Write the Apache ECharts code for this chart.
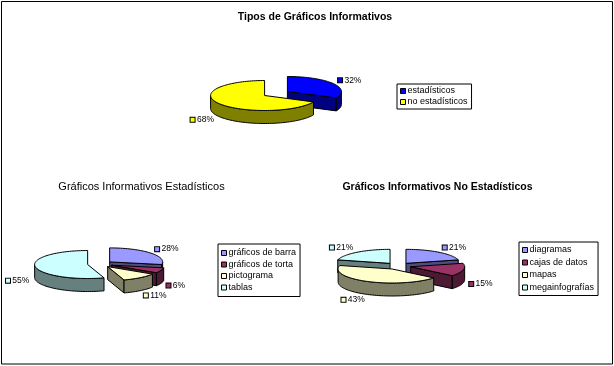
<!DOCTYPE html>
<html>
<head>
<meta charset="utf-8">
<script src="https://cdn.jsdelivr.net/npm/echarts@6/dist/echarts.min.js"></script>
<style>
html,body{margin:0;padding:0;background:#fff;}
#c{width:614px;height:366px;}
</style>
</head>
<body>
<div id="c"></div>
<script>
// ---- data ----
const title1 = 'Tipos de Gráficos Informativos';
const title2 = 'Gráficos Informativos Estadísticos';
const title3 = 'Gráficos Informativos No Estadísticos';

const pie1Names = ['estadísticos', 'no estadísticos'];
const pie1Values = [32, 68];

const pie2Names = ['gráficos de barra', 'gráficos de torta', 'pictograma', 'tablas'];
const pie2Values = [28, 6, 11, 55];

const pie3Names = ['diagramas', 'cajas de datos', 'mapas', 'megainfografías'];
const pie3Values = [21, 15, 43, 21];

// ---- styles ----
const pie1Top = ['#0000FF', '#FFFF00'];
const pie1Side = ['#000080', '#808000'];
const pieTop = ['#9999FF', '#993366', '#FFFFCC', '#CCFFFF'];
const pieSide = ['#4D4D80', '#4D1A33', '#808066', '#668080'];
const FONT = '"Liberation Sans", Arial, sans-serif';

const pies = [
  {names: pie1Names, values: pie1Values, tops: pie1Top, sides: pie1Side,
   cx: 276, cy: 93.5, rx: 54, ry: 15, depth: 13, explode: 0.25},
  {names: pie2Names, values: pie2Values, tops: pieTop, sides: pieSide,
   cx: 100, cy: 264, rx: 53, ry: 14, depth: 13, explode: 0.236},
  {names: pie3Names, values: pie3Values, tops: pieTop, sides: pieSide,
   cx: 398, cy: 266, rx: 54, ry: 14, depth: 13, explode: 0.24}
];

const rad = d => d * Math.PI / 180;

function sliceAngles(values, i) {
  const total = values.reduce((a, b) => a + b, 0);
  let before = 0;
  for (let k = 0; k < i; k++) before += values[k];
  return {a0: before / total * 360, a1: (before + values[i]) / total * 360, total};
}

// rank slices back-to-front for side drawing
pies.forEach(p => {
  const ys = p.values.map((v, i) => {
    const s = sliceAngles(p.values, i);
    const mid = (s.a0 + s.a1) / 2;
    return {i, y: p.cy - p.explode * p.ry * Math.cos(rad(mid))};
  });
  ys.sort((a, b) => a.y - b.y);
  p.rank = [];
  ys.forEach((o, r) => { p.rank[o.i] = r; });
});

function makeRender(p, i, pieIdx) {
  return function (params, api) {
    const v = api.value(0);
    const s = sliceAngles(p.values, i);
    const a0 = s.a0, a1 = s.a1, mid = (a0 + a1) / 2;
    const d = p.depth;
    const ax = p.cx + p.explode * p.rx * Math.sin(rad(mid));
    const ay = p.cy - p.explode * p.ry * Math.cos(rad(mid));
    const P = (t, dy) => [ax + p.rx * Math.sin(rad(t)), ay - p.ry * Math.cos(rad(t)) + (dy || 0)];
    const arc = (st, en, dy) => {
      const n = Math.max(2, Math.ceil((en - st) / 2));
      const pts = [];
      for (let j = 0; j <= n; j++) pts.push(P(st + (en - st) * j / n, dy));
      return pts;
    };
    const children = [];
    const sideZ = 10 + pieIdx * 10 + p.rank[i];
    const sideStyle = {fill: p.sides[i], stroke: '#000', lineWidth: 1, lineJoin: 'round'};
    if (Math.sin(rad(a0)) < -1e-6) {
      children.push({type: 'polygon', z2: sideZ,
        shape: {points: [[ax, ay], P(a0), P(a0, d), [ax, ay + d]]}, style: sideStyle});
    }
    if (Math.sin(rad(a1)) > 1e-6) {
      children.push({type: 'polygon', z2: sideZ,
        shape: {points: [[ax, ay], P(a1), P(a1, d), [ax, ay + d]]}, style: sideStyle});
    }
    const cs = Math.max(a0, 90), ce = Math.min(a1, 270);
    if (ce > cs) {
      const pts = arc(cs, ce, 0).concat(arc(cs, ce, d).reverse());
      children.push({type: 'polygon', z2: sideZ, shape: {points: pts}, style: sideStyle});
    }
    children.push({type: 'polygon', z2: 100,
      shape: {points: [[ax, ay]].concat(arc(a0, a1, 0))},
      style: {fill: p.tops[i], stroke: '#000', lineWidth: 1, lineJoin: 'round'}});
    // label
    const sn = Math.sin(rad(mid)), cn = Math.cos(rad(mid));
    const lx = ax + (p.rx + 6) * sn;
    const ly = ay - (p.ry + 6) * cn + (cn < 0 ? d : 0);
    const pct = Math.round(v / s.total * 100) + '%';
    children.push({type: 'text', z2: 200, x: lx, y: ly,
      style: {text: '{k| }' + ' ' + pct, fill: '#000', fontSize: 8.5, fontFamily: FONT,
        align: sn >= 0 ? 'left' : 'right', verticalAlign: 'middle',
        rich: {k: {width: 4, height: 4, backgroundColor: p.tops[i], borderColor: '#000', borderWidth: 1, verticalAlign: 'middle'}}}});
    return {type: 'group', children};
  };
}

const series = [];
pies.forEach((p, pi) => {
  p.names.forEach((name, i) => {
    series.push({
      type: 'custom', name, coordinateSystem: 'none',
      itemStyle: {color: p.tops[i]},
      data: [[p.values[i]]],
      renderItem: makeRender(p, i, pi),
      silent: true, animation: false
    });
  });
});

const legendBase = {
  orient: 'vertical', itemWidth: 5, itemHeight: 5, icon: 'rect',
  borderColor: '#000', borderWidth: 1, backgroundColor: '#fff',
  itemStyle: {borderColor: '#000', borderWidth: 1},
  textStyle: {fontSize: 9, fontFamily: FONT, color: '#000', lineHeight: 10, padding: [0, 0, 0, -3]},
  selectedMode: false
};

const option = {
  animation: false,
  backgroundColor: '#fff',
  legend: [
    Object.assign({}, legendBase, {data: pie1Names, left: 397, top: 84, itemGap: 1, padding: [2, 4, 2, 3]}),
    Object.assign({}, legendBase, {data: pie2Names, left: 218, top: 244, itemGap: 1.5, padding: [4, 4, 4, 3]}),
    Object.assign({}, legendBase, {data: pie3Names, left: 519, top: 242, itemGap: 2.5, padding: [3, 4, 3, 3]})
  ],
  graphic: [
    {type: 'rect', shape: {x: 1.5, y: 1.5, width: 611, height: 362.5}, style: {fill: 'none', stroke: '#000', lineWidth: 1}, z: -1},
    {type: 'text', x: 315, y: 17, style: {text: title1, fontSize: 10.5, fontWeight: 'bold', fontFamily: FONT, fill: '#000', align: 'center', verticalAlign: 'middle'}},
    {type: 'text', x: 141.5, y: 187, style: {text: title2, fontSize: 11, fontFamily: FONT, fill: '#000', align: 'center', verticalAlign: 'middle'}},
    {type: 'text', x: 437.5, y: 187, style: {text: title3, fontSize: 10.5, fontWeight: 'bold', fontFamily: FONT, fill: '#000', align: 'center', verticalAlign: 'middle'}}
  ],
  series
};

const chart = echarts.init(document.getElementById('c'), null, {renderer: 'canvas'});
chart.setOption(option);
</script>
</body>
</html>
